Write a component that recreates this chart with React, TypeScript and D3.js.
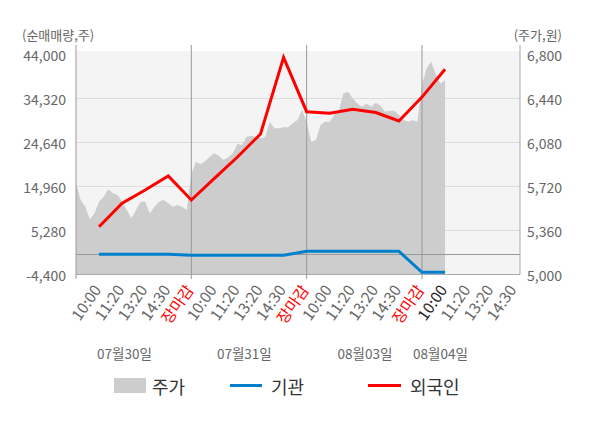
import React from "react";
import * as d3 from "d3";

const days = ["07월30일", "07월31일", "08월03일", "08월04일"];
const dayLabelSlots = [2.1, 7.3, 12.53, 15.8];
const timeLabels = ["10:00", "11:20", "13:20", "14:30", "장마감"];
const leftTicks = [-4400, 5280, 14960, 24640, 34320, 44000];
const rightTicks = [5000, 5360, 5720, 6080, 6440, 6800];

// intraday price, sampled every 0.2 slot
const price0730 = [5746, 5610, 5555, 5452, 5500, 5596, 5637, 5697, 5664, 5650, 5596, 5528, 5460, 5528, 5596, 5596, 5500, 5555, 5596, 5610, 5583, 5555, 5569, 5555, 5528];
const price0731 = [5820, 5923, 5902, 5929, 5964, 5992, 5970, 5937, 5959, 5992, 6068, 6060, 6127, 6136, 6127, 6114, 6122, 6250, 6196, 6196, 6204, 6204, 6237, 6264, 6346];
const price0803 = [6250, 6087, 6100, 6223, 6250, 6250, 6305, 6346, 6482, 6496, 6441, 6400, 6373, 6400, 6373, 6406, 6381, 6332, 6340, 6340, 6305, 6264, 6250, 6264, 6250];
const price0804 = [6550, 6687, 6740, 6638, 6560, 6590];

// net buying at slots 1..16
const foreign = [6116, 11264, 14190, 17270, 11990, 16764, 21450, 26510, 43384, 31416, 31064, 31944, 31240, 29370, 34628, 40744];
const institution = [44, 44, 44, 44, -176, -176, -176, -176, -176, 704, 704, 704, 704, 704, -3916, -3916];

const FONT = "'Noto Sans CJK KR', 'Noto Sans', sans-serif";

export default function App() {
  const W = 600, H = 428;
  const x = d3.scaleLinear().domain([0, 19.25]).range([76, 520]);
  const yL = d3.scaleLinear().domain([-4400, 44000]).range([274.5, 54.5]);
  const yR = d3.scaleLinear().domain([5000, 6800]).range([274.5, 54.5]);

  const prices = [...price0730, ...price0731, ...price0803, ...price0804];
  const area = d3
    .area<number>()
    .x((_, i) => x(i * 0.2))
    .y0(yR(5000))
    .y1((d) => yR(d));
  const line = d3
    .line<number>()
    .x((_, i) => x(i + 1))
    .y((d) => yL(d));

  const labels: { slot: number; text: string; color: string }[] = [];
  for (let d = 0; d < 4; d++) {
    timeLabels.forEach((t, k) => {
      const slot = d * 5 + k + 1;
      if (slot > 19.25) return;
      let color = t === "장마감" ? "#ff0000" : "#666666";
      if (d === 3 && k === 0) color = "#222222";
      labels.push({ slot, text: t, color });
    });
  }

  return (
    <svg width={W} height={H} style={{ position: "absolute", left: 0, top: 0, display: "block", background: "#fff" }} fontFamily={FONT}>
      <rect x={76} y={51} width={444} height={223.5} fill="#f4f4f4" />
      {leftTicks.slice(1, 5).map((t) => (
        <line key={t} x1={76} x2={520} y1={yL(t)} y2={yL(t)} stroke="#dcdcdc" strokeWidth={1} />
      ))}
      <path d={area(prices) || ""} fill="#cdcdcd" />
      <line x1={76} x2={520} y1={yL(0)} y2={yL(0)} stroke="#999" strokeWidth={1} />
      <line x1={76} x2={520} y1={274.5} y2={274.5} stroke="#aaa" strokeWidth={1} />
      {[0, 5, 10, 15].map((s) => (
        <line key={s} x1={x(s)} x2={x(s)} y1={45} y2={279} stroke="#999" strokeWidth={1} />
      ))}
      <line x1={520} x2={520} y1={45} y2={274.5} stroke="#aaa" strokeWidth={1} />
      <path d={line(institution) || ""} fill="none" stroke="#0080cc" strokeWidth={3} />
      <path d={line(foreign) || ""} fill="none" stroke="#ff0000" strokeWidth={3} strokeLinejoin="miter" />

      {leftTicks.map((t) => (
        <text key={t} x={66} y={yL(t)} textAnchor="end" dominantBaseline="central" fontSize={14} fill="#666">
          {d3.format(",")(t).replace("−", "-")}
        </text>
      ))}
      {rightTicks.map((t) => (
        <text key={t} x={527} y={yR(t)} textAnchor="start" dominantBaseline="central" fontSize={14} fill="#666">
          {d3.format(",")(t)}
        </text>
      ))}
      <text x={22} y={34} dominantBaseline="central" fontSize={13} fill="#666">(순매매량,주)</text>
      <text x={562} y={34} textAnchor="end" dominantBaseline="central" fontSize={13} fill="#666">(주가,원)</text>

      {labels.map((l, i) => (
        <text key={i} transform={`translate(${x(l.slot) + 3},${290}) rotate(-55)`} textAnchor="end" fontSize={15.5} fill={l.color}>
          {l.text}
        </text>
      ))}
      {days.map((d, i) => (
        <text key={d} x={x(dayLabelSlots[i])} y={353} textAnchor="middle" dominantBaseline="central" fontSize={13.5} fill="#666">
          {d}
        </text>
      ))}

      <rect x={114} y={378} width={32} height={15} fill="#cdcdcd" />
      <text x={152} y={386} dominantBaseline="central" fontSize={18} fill="#333">주가</text>
      <line x1={230} x2={262} y1={385.5} y2={385.5} stroke="#0080cc" strokeWidth={3} />
      <text x={271} y={386} dominantBaseline="central" fontSize={18} fill="#333">기관</text>
      <line x1={368} x2={401} y1={385.5} y2={385.5} stroke="#ff0000" strokeWidth={3} />
      <text x={410} y={386} dominantBaseline="central" fontSize={18} fill="#333">외국인</text>
    </svg>
  );
}
